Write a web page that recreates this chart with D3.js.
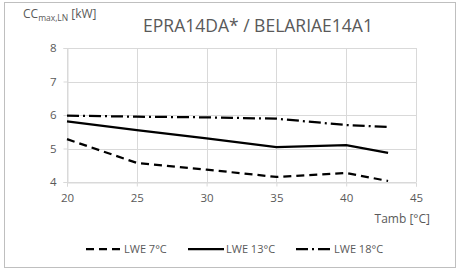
<!DOCTYPE html>
<html>
<head>
<meta charset="utf-8">
<script src="https://cdn.jsdelivr.net/npm/d3@7"></script>
<style>
  body { margin: 0; background: #fff; }
  svg text { font-family: "Open Sans", "Noto Sans", sans-serif; fill: #595959; }
</style>
</head>
<body>
<script>
const tamb = [20, 25, 30, 35, 40, 43];
const lwe7 = [5.28, 4.57, 4.37, 4.15, 4.27, 4.03];
const lwe13 = [5.81, 5.55, 5.30, 5.04, 5.10, 4.87];
const lwe18 = [5.98, 5.95, 5.93, 5.89, 5.70, 5.64];
const seriesNames = ["LWE 7°C", "LWE 13°C", "LWE 18°C"];
const xTicks = [20, 25, 30, 35, 40, 45];
const yTicks = [4, 5, 6, 7, 8];

const W = 457, H = 270;
const margin = { top: 48, right: 41, bottom: 88, left: 67 };

const svg = d3.select("body").append("svg")
  .attr("width", W)
  .attr("height", H);

// outer chart frame
svg.append("rect")
  .attr("x", 4.5).attr("y", 2.5)
  .attr("width", 451).attr("height", 265)
  .attr("fill", "#fff")
  .attr("stroke", "#bfbfbf");

const x = d3.scaleLinear().domain([20, 45]).range([margin.left, W - margin.right]);
const y = d3.scaleLinear().domain([4, 8]).range([H - margin.bottom, margin.top]);

// gridlines
svg.append("g")
  .attr("stroke", "#d9d9d9")
  .selectAll("line.h")
  .data(yTicks)
  .join("line")
  .attr("x1", x(20)).attr("x2", x(45))
  .attr("y1", d => Math.round(y(d)) + 0.5).attr("y2", d => Math.round(y(d)) + 0.5);

svg.append("g")
  .attr("stroke", "#d9d9d9")
  .selectAll("line.v")
  .data(xTicks)
  .join("line")
  .attr("x1", d => Math.round(x(d)) + 0.5).attr("x2", d => Math.round(x(d)) + 0.5)
  .attr("y1", y(8)).attr("y2", y(4));

// axes
svg.append("g")
  .attr("transform", `translate(0,${Math.round(y(4)) + 0.5})`)
  .call(d3.axisBottom(x).tickValues(xTicks).tickFormat(d3.format("d")).tickSize(4).tickPadding(7))
  .call(g => g.selectAll("line, path").attr("stroke", "#d9d9d9"))
  .call(g => g.selectAll("text").attr("font-size", 11.5).style("fill", "#595959"));

svg.append("g")
  .attr("transform", `translate(${Math.round(x(20)) + 0.5},0)`)
  .call(d3.axisLeft(y).tickValues(yTicks).tickFormat(d3.format("d")).tickSize(4).tickPadding(7))
  .call(g => g.selectAll("line, path").attr("stroke", "#d9d9d9"))
  .call(g => g.selectAll("text").attr("font-size", 11.5).style("fill", "#595959"));

// series
const styles = [
  { data: lwe7, dash: "8,5" },
  { data: lwe13, dash: null },
  { data: lwe18, dash: "12,4,2,4" }
];

const line = d3.line()
  .x((d, i) => x(tamb[i]))
  .y(d => y(d));

svg.append("g")
  .selectAll("path")
  .data(styles)
  .join("path")
  .attr("d", d => line(d.data))
  .attr("fill", "none")
  .attr("stroke", "#000")
  .attr("stroke-width", 2.25)
  .attr("stroke-dasharray", d => d.dash);

// title and axis labels
svg.append("text")
  .attr("x", 258).attr("y", 32)
  .attr("text-anchor", "middle")
  .attr("font-size", 17.5)
  .text("EPRA14DA* / BELARIAE14A1");

const yl = svg.append("text")
  .attr("x", 23).attr("y", 18)
  .attr("font-size", 12);
yl.append("tspan").text("CC");
yl.append("tspan").attr("font-size", 8.5).attr("dy", 3).text("max,LN");
yl.append("tspan").attr("dy", -3).attr("dx", 3).text("[kW]");

svg.append("text")
  .attr("x", 430).attr("y", 223)
  .attr("text-anchor", "end")
  .attr("font-size", 12)
  .text("Tamb [°C]");

// legend
const legendX = [86, 188, 296];
const legend = svg.append("g")
  .selectAll("g")
  .data(styles)
  .join("g")
  .attr("transform", (d, i) => `translate(${legendX[i]},249)`);

legend.append("line")
  .attr("x1", 0).attr("x2", 36)
  .attr("stroke", "#000")
  .attr("stroke-width", 2.25)
  .attr("stroke-dasharray", d => d.dash);

legend.append("text")
  .attr("x", 38).attr("y", 4)
  .attr("font-size", 11)
  .text((d, i) => seriesNames[i]);
</script>
</body>
</html>
